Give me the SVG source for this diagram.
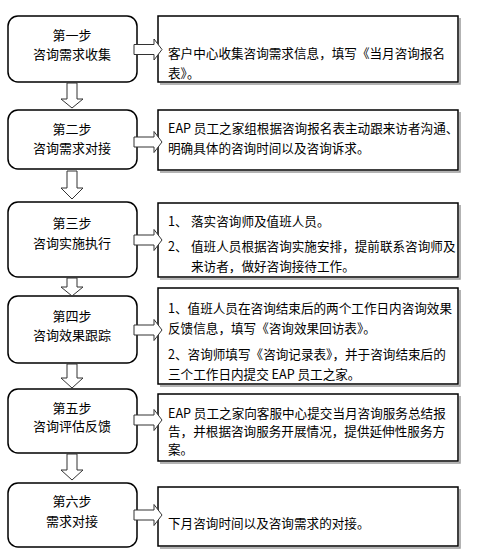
<svg xmlns="http://www.w3.org/2000/svg" width="484" height="554" viewBox="0 0 484 554">
<style>
.step{fill:#fff;stroke:#000;stroke-width:1.5}
.desc{fill:#fff;stroke:#000;stroke-width:1.5}
.shadow{fill:none;stroke:#9a9a9a;stroke-width:1.5}
.arr{fill:#fff;stroke:#333;stroke-width:1}
text{font-family:"Noto Sans CJK SC","Noto Sans",sans-serif;fill:#000;dominant-baseline:central}
.lt{font-size:13px;text-anchor:middle}
.rt{font-size:12.6px}
</style>
<rect width="484" height="554" fill="#fff"/>
<g id="step1">
<rect class="step" x="8" y="16" width="129" height="66" rx="10"/>
<text class="lt" x="72" y="34">第一步</text>
<text class="lt" x="72" y="53">咨询需求收集</text>
</g>
<g id="desc1">
<rect class="desc" x="158" y="16" width="300" height="66"/>
<polyline class="shadow" points="460,18 460,84 160,84"/>
<text class="rt" x="168" y="52">客户中心收集咨询需求信息，填写《当月咨询报名</text>
<text class="rt" x="168" y="72">表》。</text>
</g>
<g id="step2">
<rect class="step" x="8" y="110" width="129" height="59" rx="10"/>
<text class="lt" x="72" y="128">第二步</text>
<text class="lt" x="72" y="147">咨询需求对接</text>
</g>
<g id="desc2">
<rect class="desc" x="158" y="110" width="300" height="60"/>
<polyline class="shadow" points="460,112 460,172 160,172"/>
<text class="rt" x="168" y="127">EAP 员工之家组根据咨询报名表主动跟来访者沟通、</text>
<text class="rt" x="168" y="147">明确具体的咨询时间以及咨询诉求。</text>
</g>
<g id="step3">
<rect class="step" x="8" y="202" width="129" height="75" rx="10"/>
<text class="lt" x="72" y="222">第三步</text>
<text class="lt" x="72" y="242">咨询实施执行</text>
</g>
<g id="desc3">
<rect class="desc" x="158" y="203" width="300" height="74"/>
<polyline class="shadow" points="460,205 460,279 160,279"/>
<text class="rt" x="168" y="220">1、<tspan x="191">落实咨询师及值班人员。</tspan></text>
<text class="rt" x="168" y="245">2、<tspan x="191">值班人员根据咨询实施安排，提前联系咨询师及</tspan></text>
<text class="rt" x="191" y="265">来访者，做好咨询接待工作。</text>
</g>
<g id="step4">
<rect class="step" x="8" y="296" width="129" height="67" rx="10"/>
<text class="lt" x="72" y="315">第四步</text>
<text class="lt" x="72" y="334">咨询效果跟踪</text>
</g>
<g id="desc4">
<rect class="desc" x="158" y="288" width="300" height="96"/>
<polyline class="shadow" points="460,290 460,386 160,386"/>
<text class="rt" x="168" y="307">1、值班人员在咨询结束后的两个工作日内咨询效果</text>
<text class="rt" x="168" y="327">反馈信息，填写《咨询效果回访表》。</text>
<text class="rt" x="168" y="353">2、咨询师填写《咨询记录表》，并于咨询结束后的</text>
<text class="rt" x="168" y="373">三个工作日内提交 EAP 员工之家。</text>
</g>
<g id="step5">
<rect class="step" x="8" y="389" width="129" height="64" rx="10"/>
<text class="lt" x="72" y="407">第五步</text>
<text class="lt" x="72" y="425">咨询评估反馈</text>
</g>
<g id="desc5">
<rect class="desc" x="158" y="394" width="300" height="67"/>
<polyline class="shadow" points="460,396 460,463 160,463"/>
<text class="rt" x="168" y="412">EAP 员工之家向客服中心提交当月咨询服务总结报</text>
<text class="rt" x="168" y="430">告，并根据咨询服务开展情况，提供延伸性服务方</text>
<text class="rt" x="168" y="448">案。</text>
</g>
<g id="step6">
<rect class="step" x="8" y="483" width="129" height="64" rx="10"/>
<text class="lt" x="72" y="500">第六步</text>
<text class="lt" x="72" y="520">需求对接</text>
</g>
<g id="desc6">
<rect class="desc" x="158" y="487" width="300" height="59"/>
<polyline class="shadow" points="460,489 460,548 160,548"/>
<text class="rt" x="168" y="522">下月咨询时间以及咨询需求的对接。</text>
</g>
<g id="connectors">
<polygon class="arr" points="67,83 77,83 77,99 83,99 72,108 61,99 67,99"/>
<polygon class="arr" points="67,171 77,171 77,188 83,188 72,199 61,188 67,188"/>
<polygon class="arr" points="67,278 77,278 77,287 83,287 72,296 61,287 67,287"/>
<polygon class="arr" points="67,364 77,364 77,378 83,378 72,388 61,378 67,378"/>
<polygon class="arr" points="67,454 77,454 77,470 83,470 72,480 61,470 67,470"/>
<polygon class="arr" points="134,44.5 154,44.5 154,39 162,49.5 154,60 154,54.5 134,54.5"/>
<polygon class="arr" points="134,137 154,137 154,131.5 162,142 154,152.5 154,147 134,147"/>
<polygon class="arr" points="134,235 154,235 154,229.5 162,240 154,250.5 154,245 134,245"/>
<polygon class="arr" points="134,325 154,325 154,319.5 162,330 154,340.5 154,335 134,335"/>
<polygon class="arr" points="134,415 154,415 154,409.5 162,420 154,430.5 154,425 134,425"/>
<polygon class="arr" points="134,510 154,510 154,504.5 162,515 154,525.5 154,520 134,520"/>
</g>
</svg>
